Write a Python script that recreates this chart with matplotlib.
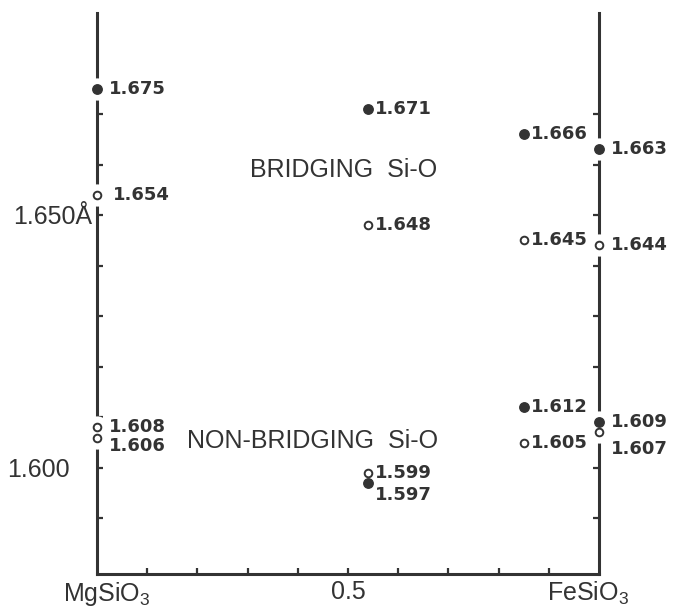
import matplotlib
matplotlib.use('Agg')
from matplotlib import pyplot as plt

plt.rcParams['mathtext.fontset'] = 'custom'
plt.rcParams['mathtext.rm'] = 'Liberation Sans'
plt.rcParams['mathtext.it'] = 'Liberation Sans'
plt.rcParams['mathtext.default'] = 'regular'

# composition (0 = MgSiO3, 1 = FeSiO3) and Si-O distances in Angstrom
bridging_filled_x = [0.0, 0.54, 0.85, 1.0]
bridging_filled_y = [1.675, 1.671, 1.666, 1.663]
bridging_open_x = [0.0, 0.54, 0.85, 1.0]
bridging_open_y = [1.654, 1.648, 1.645, 1.644]
nonbr_filled_x = [0.54, 0.85, 1.0]
nonbr_filled_y = [1.597, 1.612, 1.609]
nonbr_open_x = [0.0, 0.0, 0.54, 0.85, 1.0]
nonbr_open_y = [1.608, 1.606, 1.599, 1.605, 1.607]

ytick_labels = {1.650: '1.650Å', 1.600: '1.600'}
xtick_labels = {0.0: 'MgSiO$_3$', 0.5: '0.5', 1.0: 'FeSiO$_3$'}

INK = '#333333'
PX = 0.72  # points per pixel at dpi 100

fig = plt.figure(figsize=(6.77, 6.16), dpi=100)
ax = fig.add_axes([97 / 677, 42 / 616, 502 / 677, 561 / 616])
ax.set_xlim(0, 1)
ax.set_ylim(1.579, 1.690)

for side in ['left', 'right', 'bottom']:
    ax.spines[side].set_linewidth(2.2)
    ax.spines[side].set_color(INK)
ax.spines['top'].set_visible(False)

ax.set_yticks([1.59 + 0.01 * i for i in range(9)])
ax.set_xticks([0.1 * i for i in range(1, 10)])
ax.tick_params(axis='both', direction='in', length=4, width=1.6, color=INK,
               labelleft=False, labelbottom=False, right=True)

all_x = bridging_filled_x + bridging_open_x + nonbr_filled_x + nonbr_open_x
all_y = bridging_filled_y + bridging_open_y + nonbr_filled_y + nonbr_open_y

# break the axis lines where points sit on them
for x, y in zip(all_x, all_y):
    if x in (0.0, 1.0):
        ax.plot(x, y, 'o', ms=16, color='white', mec='none', zorder=3, clip_on=False)

for xs, ys in [(bridging_filled_x, bridging_filled_y), (nonbr_filled_x, nonbr_filled_y)]:
    ax.plot(xs, ys, 'o', ms=6.8, color=INK, mec=INK, ls='none', zorder=4, clip_on=False)
for xs, ys in [(bridging_open_x, bridging_open_y), (nonbr_open_x, nonbr_open_y)]:
    ax.plot(xs, ys, 'o', ms=5.5, mfc='white', mec=INK, mew=1.4, ls='none', zorder=4, clip_on=False)

# value labels next to the points
extra_dy = {1.606: -8, 1.597: -12, 1.607: -17}
extra_dx = {1.654: 4}
for x, y in zip(all_x, all_y):
    dx = 12 if x in (0.0, 1.0) else 7
    dx += extra_dx.get(y, 0)
    dy = extra_dy.get(y, 0)
    ax.annotate(f'{y:.3f}', xy=(x, y), xytext=(dx * PX, dy * PX), textcoords='offset points',
                ha='left', va='center', fontsize=13, fontweight='bold', color=INK,
                family='DejaVu Sans', zorder=5, annotation_clip=False)

ax.text(0.305, 1.659, 'BRIDGING  Si-O', fontsize=18, family='Liberation Sans',
        color=INK, va='center', ha='left')
ax.text(0.179, 1.6053, 'NON-BRIDGING  Si-O', fontsize=18, family='Liberation Sans',
        color=INK, va='center', ha='left')

# axis labels drawn by hand, as in the original
ylab_dx = {1.650: -5, 1.600: -27}
for y, s in ytick_labels.items():
    ax.annotate(s, xy=(0, y), xytext=(ylab_dx[y] * PX, -2 * PX), textcoords='offset points',
                ha='right', va='center', fontsize=18, family='Liberation Sans', color=INK,
                annotation_clip=False)
xlab_dx = {0.0: 10, 0.5: 0, 1.0: -11}
for x, s in xtick_labels.items():
    ax.annotate(s, xy=(x, 1.579), xytext=(xlab_dx[x] * PX, -6 * PX), textcoords='offset points',
                ha='center', va='top', fontsize=18, family='Liberation Sans', color=INK,
                annotation_clip=False)

fig.savefig('out.png', dpi=100, facecolor='white')
